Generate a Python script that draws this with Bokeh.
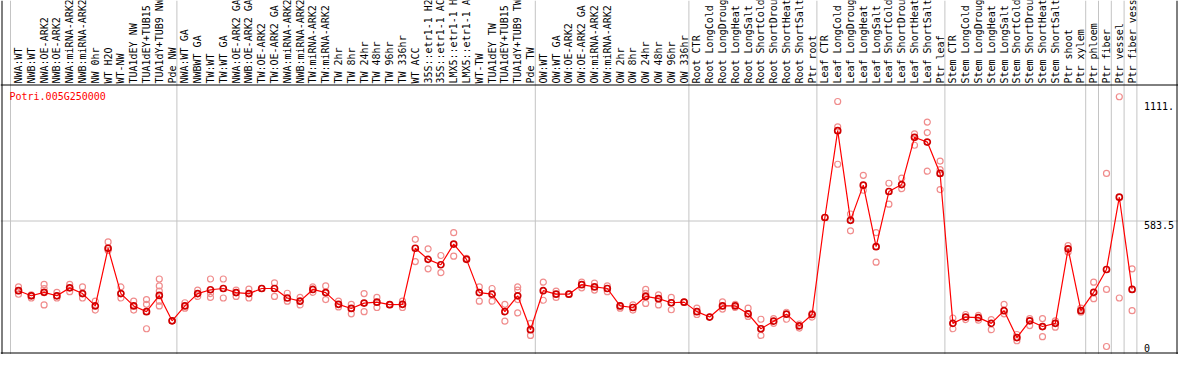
import math
from bokeh.plotting import figure
from bokeh.models import Span, Range1d, ColumnDataSource
from bokeh.core.properties import value
from bokeh.embed import file_html
from bokeh.resources import INLINE

# ---------------- data ----------------
gene_id = "Potri.005G250000"

group_nw = ["NWA:WT", "NWB:WT", "NWA:OE-ARK2", "NWB:OE-ARK2", "NWA:miRNA-ARK2",
            "NWB:miRNA-ARK2", "NW 0hr", "WT H2O", "WT-NW", "TUA1dEY NW",
            "TUA1dEY+TUB15", "TUA1dY+TUB9 NW", "Pde NW"]
group_tw = ["NWA:WT GA", "NWBWT GA", "TW:WT", "TW:WT GA", "NWA:OE-ARK2 GA",
            "NWB:OE-ARK2 GA", "TW:OE-ARK2", "TW:OE-ARK2 GA", "NWA:miRNA-ARK2",
            "NWB:miRNA-ARK2", "TW:miRNA-ARK2", "TW:miRNA-ARK2", "TW 2hr", "TW 8hr",
            "TW 24hr", "TW 48hr", "TW 96hr", "TW 336hr", "WT ACC", "35S::etr1-1 H2",
            "35S::etr1-1 AC", "LMX5::etr1-1 H", "LMX5::etr1-1 A", "WT-TW",
            "TUA1dEY TW", "TUA1dEY+TUB15", "TUA1dY+TUB9 TW", "Pde TW"]
group_ow = ["OW:WT", "OW:WT GA", "OW:OE-ARK2", "OW:OE-ARK2 GA", "OW:miRNA-ARK2",
            "OW:miRNA-ARK2", "OW 2hr", "OW 8hr", "OW 24hr", "OW 48hr", "OW 96hr",
            "OW 336hr"]
group_root = ["Root CTR", "Root LongCold", "Root LongDroug", "Root LongHeat",
              "Root LongSalt", "Root ShortCold", "Root ShortDrou", "Root ShortHeat",
              "Root ShortSalt", "Ptr root"]
group_leaf = ["Leaf CTR", "Leaf LongCold", "Leaf LongDroug", "Leaf LongHeat",
              "Leaf LongSalt", "Leaf ShortCold", "Leaf ShortDrou", "Leaf ShortHeat",
              "Leaf ShortSalt", "Ptr leaf"]
group_stem = ["Stem CTR", "Stem LongCold", "Stem LongDroug", "Stem LongHeat",
              "Stem LongSalt", "Stem ShortCold", "Stem ShortDrou", "Stem ShortHeat",
              "Stem ShortSalt", "Ptr shoot", "Ptr xylem"]
group_phloem = ["Ptr phloem"]
group_fiber = ["Ptr fiber"]
group_vessel = ["Ptr vessel"]
group_fvessel = ["Ptr fiber vess"]

groups = [group_nw, group_tw, group_ow, group_root, group_leaf, group_stem,
          group_phloem, group_fiber, group_vessel, group_fvessel]

means = [
    259.5, 235.8, 252.0, 235.8, 272.6, 246.1, 188.6, 456.8, 246.1, 188.6, 162.1, 237.3, 119.4,
    188.6, 246.1, 263.8, 269.7, 250.5, 246.1, 269.7, 269.7, 225.5, 210.7, 265.3, 250.5, 196.0,
    176.8, 201.9, 206.3, 194.5, 196.0, 456.8, 405.2, 380.2, 476.0, 405.2, 250.5, 243.2, 162.1,
    235.8, 78.1,
    259.5, 243.2, 243.2, 287.4, 277.0, 269.7, 188.6, 181.3, 232.8, 222.5, 203.4, 206.3,
    162.1, 137.0, 188.6, 188.6, 151.8, 82.5, 117.9, 150.3, 95.8, 148.8,
    599.8, 1003.6, 586.5, 750.1, 464.2, 720.6, 753.0, 972.6, 950.5, 804.6,
    107.6, 137.0, 134.1, 107.6, 166.5, 41.3, 119.4, 92.8, 107.6, 453.9, 166.5,
    252.0, 358.1, 694.1, 265.3,
]

replicates = [
    [277, 259.5, 243], [240, 225.5], [288.8, 269.7, 252, 193.1], [252, 225.5],
    [288.8, 255], [277, 225.5], [210.7, 169.5], [486.3, 446.5], [277, 225.5],
    [210.7, 169.5], [218.1, 196, 82.5], [313.9, 281.5, 257.9, 210.7, 188.6], [119.4],
    [203.4, 178.3], [262.3, 232.8], [313.9, 246.1, 228.4], [313.9, 225.5],
    [262.3, 232.8], [266.7, 225.5], [269.7], [296.2, 232.8], [247.6, 210.7],
    [228.4, 193.1], [277, 252], [281.5, 218.1], [210.7, 184.2], [196, 151.8],
    [246.1, 162.1], [228.4, 181.3], [194.5], [210.7, 181.3], [498.1, 395],
    [453.9, 361.1], [423, 343.4], [529.1, 420], [409.7], [277, 210.7], [269.7, 210.7],
    [196, 117.9], [277, 262.3, 218.1, 156.2], [107.6, 51.6],
    [299.2, 215.1], [257.9, 228.4], [243.2], [299.2, 272.6], [294.7, 262.3],
    [281.5, 255], [188.6, 178.3], [193.1, 169.5], [265.3, 247.6, 200.4], [240, 193.1],
    [228.4, 170.9], [206.3],
    [178.3, 148.8], [137], [207.8, 174], [196, 181.3], [178.3, 139.9], [126.7, 51.6],
    [129.7, 107.6], [159.2, 126.7], [104.6, 85.5], [154.7, 137],
    [599.8], [1139.2, 1021.3, 847.3], [616, 537.8], [795.8, 726.5], [529.1, 391.9],
    [758.9, 661.6], [782.5, 733.9], [988.8, 935.8], [1043.4, 994.7, 815],
    [862.1, 822.3, 729.5],
    [132.6, 82.5], [148.7, 125.3], [144.4, 122.3], [125.3, 78.1], [196, 151.8],
    [55.9, 26.7], [129.7, 97.3], [129.7, 45.7], [119.4, 89.8], [468.6, 439.2],
    [178.3, 159.2],
    [299.2, 222.5], [804.6, 265.3, 0.0], [1161.3, 225.5], [361.1, 166.5],
]

ytick_values = [0, 583.5, 1167]
ytick_labels = ["0", "583.5", "1111."]

# ---------------- layout ----------------
W, H = 1178, 354
X0_PX, STEP_PX = 18.0, 12.8          # pixel of first category, pixel step
ZERO_PX, TOP_PX = 346.0, 95.0        # pixel rows of value 0 and of the top tick
LABEL_BOTTOM_PX = 83.0
HEADER_LINE_PX = 84.5
K = (ZERO_PX - TOP_PX) / ytick_values[-1]


def px_to_x(px):
    return (px - X0_PX) / STEP_PX


def px_to_y(py):
    return (ZERO_PX - py) / K


labels = [lab for g in groups for lab in g]
n = len(labels)
idx = list(range(n))

p = figure(width=W, height=H,
           x_range=Range1d(px_to_x(0), px_to_x(W)),
           y_range=Range1d(px_to_y(H), px_to_y(0)),
           output_backend="svg", toolbar_location=None,
           x_axis_location=None, y_axis_location=None,
           min_border=0, outline_line_color=None)
p.min_border_left = p.min_border_right = p.min_border_top = p.min_border_bottom = 0
p.xgrid.visible = False
p.ygrid.visible = False
p.background_fill_color = "white"
p.border_fill_color = "white"

GRAY = "#c4c4c4"
# group separators
starts = [0]
for g in groups:
    starts.append(starts[-1] + len(g))
for b in starts:
    p.add_layout(Span(location=b - 8.0 / STEP_PX, dimension="height",
                      line_color=GRAY, line_width=1, level="underlay"))
# middle grid line
p.add_layout(Span(location=ytick_values[1], dimension="width",
                  line_color=GRAY, line_width=1, level="underlay"))

# frame lines
for loc in (px_to_x(1.5), px_to_x(W - 1.5)):
    p.add_layout(Span(location=loc, dimension="height", line_color="black", line_width=1))
for loc in (px_to_y(H - 1.5), px_to_y(HEADER_LINE_PX)):
    p.add_layout(Span(location=loc, dimension="width", line_color="black", line_width=1))

MONO = value("DejaVu Sans Mono")

# replicate points
rx, ry = [], []
for i, reps in enumerate(replicates):
    for v in reps:
        rx.append(i)
        ry.append(v)
p.scatter(rx, ry, marker="circle", size=6, fill_color=None,
          line_color="#f08c8c", line_width=1.2)

# mean line + points
p.line(idx, means, line_color="#ff0000", line_width=1.2)
p.scatter(idx, means, marker="circle", size=6, fill_color=None,
          line_color="#d00000", line_width=1.7)

# category labels (rotated, clipped at the top like the reference)
lab_src = ColumnDataSource(dict(x=idx, y=[px_to_y(LABEL_BOTTOM_PX)] * n, text=labels))
p.text(x="x", y="y", text="text", source=lab_src, angle=math.pi / 2,
       text_align="left", text_baseline="middle", text_font=MONO,
       text_font_size="10px", text_color="black")

# gene id
p.text(x=[px_to_x(9)], y=[px_to_y(96)], text=[gene_id], text_font=MONO,
       text_font_size="10px", text_color="#ff0000", text_align="left",
       text_baseline="middle")

# value labels on the right
last_line_x = starts[-1] - 8.0 / STEP_PX
tick_src = ColumnDataSource(dict(
    x=[last_line_x + 7.0 / STEP_PX] * len(ytick_values),
    y=ytick_values, text=ytick_labels, yoff=[1, 4, 10]))
p.text(x="x", y="y", text="text", y_offset="yoff", source=tick_src,
       text_font=MONO, text_font_size="10px", text_color="black",
       text_align="left", text_baseline="middle")

open("out.html", "w").write(file_html(p, INLINE))
